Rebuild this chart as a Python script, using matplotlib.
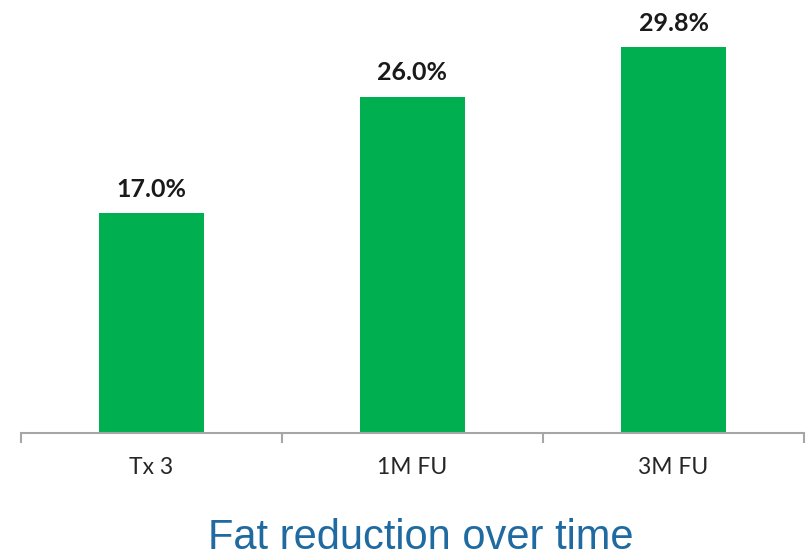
import matplotlib.pyplot as plt
from matplotlib.ticker import FixedLocator

categories = ["Tx 3", "1M FU", "3M FU"]
values = [17.0, 26.0, 29.8]
value_labels = ["17.0%", "26.0%", "29.8%"]

bar_color = "#00B050"
axis_color = "#A6A6A6"
title_color = "#1F6AA0"

fig = plt.figure(figsize=(8.06, 5.57), dpi=100)
ax = fig.add_axes([21 / 806, 124 / 557, 783 / 806, 427 / 557])

x = list(range(len(categories)))
bars = ax.bar(x, values, width=0.4, color=bar_color)

for b, lab in zip(bars, value_labels):
    ax.annotate(lab, (b.get_x() + b.get_width() / 2, b.get_height()),
                xytext=(0, 9), textcoords="offset points",
                ha="center", va="bottom", fontsize=18, fontweight="bold",
                family="Lato", color="#1A1A1A")

ax.set_xlim(-0.5, 2.5)
ax.set_ylim(0, 33)

for s in ["top", "right", "left"]:
    ax.spines[s].set_visible(False)
ax.spines["bottom"].set_color(axis_color)
ax.spines["bottom"].set_linewidth(1.5)
ax.set_yticks([])

# category labels at centres, boundary tick marks between them
ax.set_xticks(x)
ax.set_xticklabels(categories, family="Lato", fontsize=16.5, color="#262626")
ax.tick_params(axis="x", which="major", length=0, pad=17)
ax.xaxis.set_minor_locator(FixedLocator([-0.5, 0.5, 1.5, 2.5]))
ax.tick_params(axis="x", which="minor", length=7, width=1.5, color=axis_color, direction="out")

fig.text(0.522, 1 - 538 / 557, "Fat reduction over time", ha="center", va="center",
         fontsize=30, color=title_color, family="Liberation Sans")

fig.savefig("out.png", dpi=100)
